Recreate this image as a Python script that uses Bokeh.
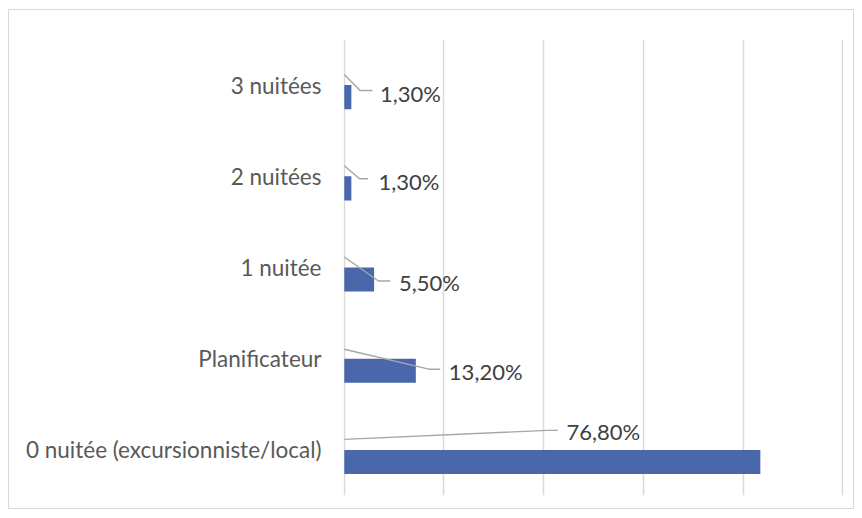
import numpy as np
from bokeh.plotting import figure
from bokeh.models import Range1d, FixedTicker, ColumnDataSource
from bokeh.core.properties import value
from bokeh.embed import file_html
from bokeh.resources import INLINE

# ---- data ----
categories = ["0 nuitée (excursionniste/local)", "Planificateur", "1 nuitée", "2 nuitées", "3 nuitées"]
values = [76.8, 13.2, 5.5, 1.3, 1.3]
value_labels = ["76,80%", "13,20%", "5,50%", "1,30%", "1,30%"]

# ---- callout layout (manually placed labels, in data units relative to category) ----
# (start_dy, elbow_x, elbow_dy, end_x, text_x, text_dy)
callouts = [
    (0.115, 37.5, 0.214, 39.4, 41.0, 0.203),
    (0.104, 15.6, -0.115, 17.7, 19.3, -0.137),
    (0.115, 6.3, -0.148, 8.5, 10.1, -0.160),
    (0.115, 2.8, -0.027, 4.4, 6.3, -0.060),
    (0.115, 2.9, -0.060, 5.2, 6.6, -0.093),
]

x_max = 92.0
FONT = "Lato"
bar_h = 0.264

p = figure(width=846, height=500, output_backend="svg", toolbar_location=None,
           x_range=Range1d(-0.15, x_max + 0.15), y_range=Range1d(-0.5, len(categories) - 0.5),
           min_border_left=334, min_border_right=12, min_border_top=29, min_border_bottom=15)
p.margin = (9, 0, 0, 8)
p.styles = {"border": "1px solid #d9d9d9"}
p.outline_line_color = None
p.background_fill_color = "white"
p.border_fill_color = "white"

idx = np.arange(len(categories))
src = ColumnDataSource(dict(y=idx - bar_h / 2, right=values))
p.hbar(y="y", right="right", left=0, height=bar_h, source=src,
       fill_color="#4a67ac", line_color=None)

# callout leader lines and labels
xs, ys, tx, ty = [], [], [], []
for i, (sdy, ex, edy, endx, txx, tdy) in enumerate(callouts):
    xs.append([0, ex, endx])
    ys.append([i + sdy, i + edy, i + edy])
    tx.append(txx)
    ty.append(i + tdy)
p.multi_line(xs=xs, ys=ys, line_color="#a6a6a6", line_width=1.4)
p.text(x=tx, y=ty, text=value_labels, text_font=value(FONT), text_font_size="22px",
       text_color="#404040", text_align="left", text_baseline="middle")

# axes
p.xaxis.visible = False
yax = p.yaxis[0]
yax.ticker = FixedTicker(ticks=list(idx))
yax.major_label_overrides = {int(i): c for i, c in zip(idx, categories)}
yax.axis_line_color = None
yax.major_tick_line_color = None
yax.minor_tick_line_color = None
yax.major_tick_out = 0
yax.major_label_standoff = 22
yax.major_label_text_font = FONT
yax.major_label_text_font_size = "22.5px"
yax.major_label_text_color = "#595959"

p.ygrid.grid_line_color = None
p.xgrid.ticker = FixedTicker(ticks=list(np.linspace(0, x_max, 6)))
p.xgrid.grid_line_color = "#d9d9d9"
p.xgrid.grid_line_width = 1.5

open("out.html", "w").write(file_html(p, INLINE))
